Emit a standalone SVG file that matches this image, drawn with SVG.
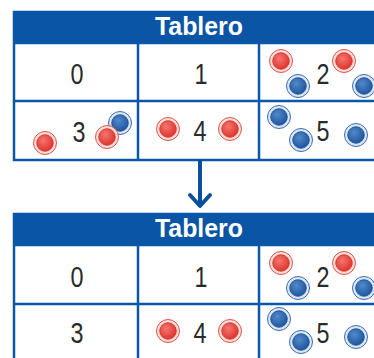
<svg xmlns="http://www.w3.org/2000/svg" xmlns:xlink="http://www.w3.org/1999/xlink" width="374" height="358" viewBox="0 0 374 358">
<style>
.grid{fill:none;stroke:#0a57a8;stroke-width:2.5}
.head{fill:#0a55a6}
.title{font-family:"Liberation Sans",Arial,sans-serif;font-weight:bold;font-size:25px;fill:#ffffff;text-anchor:middle}
.num{font-family:"Liberation Sans",Arial,sans-serif;font-size:29px;fill:#2a2a2a;text-anchor:middle}
.conn{fill:none;stroke:#0a4f9c;stroke-width:4;stroke-linecap:round;stroke-linejoin:round}
</style>
<defs>
<radialGradient id="gr" cx="0.4" cy="0.35" r="0.7">
<stop offset="0" stop-color="#f4766f"/>
<stop offset="1" stop-color="#de302a"/>
</radialGradient>
<radialGradient id="gb" cx="0.4" cy="0.35" r="0.7">
<stop offset="0" stop-color="#5289c8"/>
<stop offset="1" stop-color="#1b54a0"/>
</radialGradient>
<g id="red">
<circle r="11.5" fill="#fbdcd7" stroke="#e0534a" stroke-width="1"/>
<circle r="8.3" fill="url(#gr)" stroke="#c9302a" stroke-width="0.8"/>
</g>
<g id="blue">
<circle r="11.5" fill="#dbe6f3" stroke="#3a6cb0" stroke-width="1"/>
<circle r="8.3" fill="url(#gb)" stroke="#17478a" stroke-width="0.8"/>
</g>
</defs>
<rect width="374" height="358" fill="#ffffff"/>

<g id="tablero1">
<rect class="head" x="14" y="12" width="370" height="31"/>
<text class="title" x="199" y="35" textLength="88" lengthAdjust="spacingAndGlyphs">Tablero</text>
<rect class="grid" x="14" y="12" width="372" height="148"/>
<line class="grid" x1="14" y1="43" x2="380" y2="43"/>
<line class="grid" x1="14" y1="101" x2="380" y2="101"/>
<line class="grid" x1="138" y1="43" x2="138" y2="160"/>
<line class="grid" x1="259" y1="43" x2="259" y2="160"/>
<g id="t1c0"><text class="num" x="77" y="84" textLength="13" lengthAdjust="spacingAndGlyphs">0</text></g>
<g id="t1c1"><text class="num" x="201" y="84" textLength="13" lengthAdjust="spacingAndGlyphs">1</text></g>
<g id="t1c2"><text class="num" x="323" y="84" textLength="13" lengthAdjust="spacingAndGlyphs">2</text>
<use xlink:href="#red" x="281" y="61"/><use xlink:href="#blue" x="298" y="86"/>
<use xlink:href="#red" x="344" y="61"/><use xlink:href="#blue" x="364" y="86"/></g>
<g id="t1c3"><text class="num" x="79" y="142" textLength="13" lengthAdjust="spacingAndGlyphs">3</text>
<use xlink:href="#red" x="45" y="143"/><use xlink:href="#blue" x="120" y="123"/><use xlink:href="#red" x="107" y="137"/></g>
<g id="t1c4"><text class="num" x="200" y="141" textLength="13" lengthAdjust="spacingAndGlyphs">4</text>
<use xlink:href="#red" x="168" y="129"/><use xlink:href="#red" x="230" y="129"/></g>
<g id="t1c5"><text class="num" x="323" y="141" textLength="13" lengthAdjust="spacingAndGlyphs">5</text>
<use xlink:href="#blue" x="279" y="117"/><use xlink:href="#blue" x="301" y="140"/><use xlink:href="#blue" x="356" y="135"/></g>
</g>

<g id="connectors">
<line class="conn" x1="200" y1="161" x2="200" y2="205"/>
<polyline class="conn" points="190,195 200,206 210,195"/>
</g>

<g id="tablero2">
<rect class="head" x="14" y="214" width="370" height="31"/>
<text class="title" x="199" y="237" textLength="88" lengthAdjust="spacingAndGlyphs">Tablero</text>
<rect class="grid" x="14" y="214" width="372" height="160"/>
<line class="grid" x1="14" y1="245" x2="380" y2="245"/>
<line class="grid" x1="14" y1="304" x2="380" y2="304"/>
<line class="grid" x1="138" y1="245" x2="138" y2="370"/>
<line class="grid" x1="259" y1="245" x2="259" y2="370"/>
<g id="t2c0"><text class="num" x="77" y="287" textLength="13" lengthAdjust="spacingAndGlyphs">0</text></g>
<g id="t2c1"><text class="num" x="201" y="287" textLength="13" lengthAdjust="spacingAndGlyphs">1</text></g>
<g id="t2c2"><text class="num" x="323" y="287" textLength="13" lengthAdjust="spacingAndGlyphs">2</text>
<use xlink:href="#red" x="281" y="263"/><use xlink:href="#blue" x="298" y="288"/>
<use xlink:href="#red" x="344" y="263"/><use xlink:href="#blue" x="364" y="288"/></g>
<g id="t2c3"><text class="num" x="77" y="343" textLength="13" lengthAdjust="spacingAndGlyphs">3</text></g>
<g id="t2c4"><text class="num" x="200" y="343" textLength="13" lengthAdjust="spacingAndGlyphs">4</text>
<use xlink:href="#red" x="168" y="331"/><use xlink:href="#red" x="230" y="331"/></g>
<g id="t2c5"><text class="num" x="323" y="343" textLength="13" lengthAdjust="spacingAndGlyphs">5</text>
<use xlink:href="#blue" x="279" y="319"/><use xlink:href="#blue" x="301" y="342"/><use xlink:href="#blue" x="356" y="337"/></g>
</g>
</svg>
